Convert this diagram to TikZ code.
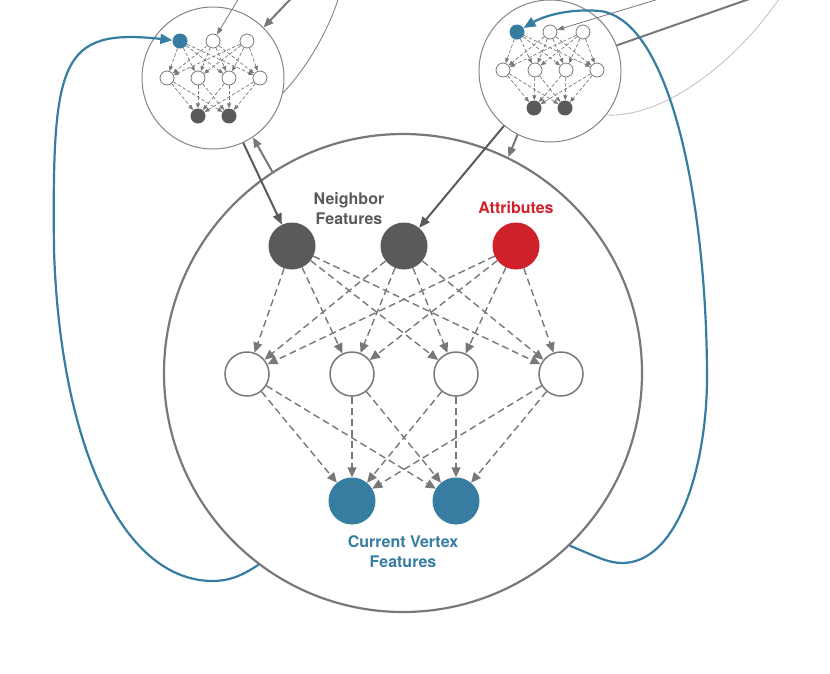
\documentclass[tikz,border=0pt]{standalone}
\usepackage{fontspec}
\setmainfont{TeX Gyre Heros}
\usepackage{tikz}
\usetikzlibrary{positioning, arrows.meta, calc}
\usepackage{xcolor}
\definecolor{NodeGray}{HTML}{5A5A5A}
\definecolor{LineGray}{HTML}{787878}
\definecolor{RimGray}{HTML}{858585}
\definecolor{FaintGray}{HTML}{BEBEBE}
\definecolor{AttrRed}{HTML}{CE2129}
\definecolor{VertBlue}{HTML}{367DA1}

\begin{document}
\begin{tikzpicture}[x=1pt, y=-1pt,
    featnode/.style={circle, fill=NodeGray, minimum size=47pt, inner sep=0pt},
    attrnode/.style={circle, fill=AttrRed, minimum size=47pt, inner sep=0pt},
    hidnode/.style={circle, draw=LineGray, line width=1.5pt, fill=white, minimum size=44pt, inner sep=0pt},
    vertnode/.style={circle, fill=VertBlue, minimum size=47pt, inner sep=0pt},
    sblue/.style={circle, fill=VertBlue, minimum size=15pt, inner sep=0pt},
    swhite/.style={circle, draw=LineGray, line width=0.8pt, fill=white, minimum size=14pt, inner sep=0pt},
    sdark/.style={circle, fill=NodeGray, minimum size=15pt, inner sep=0pt},
    link/.style={draw=LineGray, line width=1.4pt, dash pattern=on 7pt off 4pt, -{Triangle[length=10pt, width=9pt]}},
    slink/.style={draw=LineGray, line width=0.7pt, dash pattern=on 3.5pt off 2pt, -{Triangle[length=5pt, width=4pt]}},
    feed/.style={draw=NodeGray, line width=2pt, -{Triangle[length=11pt, width=9pt]}},
    back/.style={draw=LineGray, line width=2pt, -{Triangle[length=10pt, width=8pt]}},
    recur/.style={draw=VertBlue, line width=2.2pt, -{Triangle[length=12pt, width=10pt]}},
    lbl/.style={font=\fontsize{16}{20}\selectfont\bfseries, align=center, inner sep=0pt}
]
\clip (0,0) rectangle (830,673);

% Cell and the two neighbor copies
\node[circle, draw=LineGray, line width=2.2pt, minimum size=478pt, inner sep=0pt] (cell) at (403,373) {};
\node[circle, draw=RimGray, line width=1pt, minimum size=142pt, inner sep=0pt] (netL) at (213,78) {};
\node[circle, draw=RimGray, line width=1pt, minimum size=142pt, inner sep=0pt] (netR) at (550,71) {};

% Input layer
\node[featnode] (n1) at (292,246) {};
\node[featnode] (n2) at (404,246) {};
\node[attrnode] (attr) at (516,246) {};

% Hidden layer
\node[hidnode] (h1) at (247,374) {};
\node[hidnode] (h2) at (352,374) {};
\node[hidnode] (h3) at (456,374) {};
\node[hidnode] (h4) at (561,374) {};

% Output layer
\node[vertnode] (o1) at (352,501) {};
\node[vertnode] (o2) at (456,501) {};

\foreach \s in {n1,n2,attr}
    \foreach \t in {h1,h2,h3,h4}
        \draw[link] (\s) -- (\t);
\foreach \s in {h1,h2,h3,h4}
    \foreach \t in {o1,o2}
        \draw[link] (\s) -- (\t);

% Labels
\node[lbl, text=NodeGray] (nbrlbl) at (349,209) {Neighbor\\Features};
\node[lbl, text=AttrRed] (attrlbl) at (516,208) {Attributes};
\node[lbl, text=VertBlue] (vertlbl) at (403,552) {Current Vertex\\Features};

% Left copy
\node[sblue] (lA1) at (180,41) {};
\node[swhite] (lA2) at (213,41) {};
\node[swhite] (lA3) at (247,41) {};
\node[swhite] (lB1) at (167,78) {};
\node[swhite] (lB2) at (198,78) {};
\node[swhite] (lB3) at (229,78) {};
\node[swhite] (lB4) at (260,78) {};
\node[sdark] (lC1) at (198,116) {};
\node[sdark] (lC2) at (229,116) {};

% Right copy
\node[sblue] (rA1) at (517,32) {};
\node[swhite] (rA2) at (550,32) {};
\node[swhite] (rA3) at (583,32) {};
\node[swhite] (rB1) at (503,70) {};
\node[swhite] (rB2) at (535,70) {};
\node[swhite] (rB3) at (566,70) {};
\node[swhite] (rB4) at (597,70) {};
\node[sdark] (rC1) at (534,108) {};
\node[sdark] (rC2) at (565,108) {};

\foreach \p in {l,r} {
    \foreach \s in {A1,A2,A3}
        \foreach \t in {B1,B2,B3,B4}
            \draw[slink] (\p\s) -- (\p\t);
    \foreach \s in {B1,B2,B3,B4}
        \foreach \t in {C1,C2}
            \draw[slink] (\p\s) -- (\p\t);
}

% Links between cell and copies
\draw[feed] (netL.-65) -- (n1);
\draw[feed] (netR.-130) -- (n2);
\draw[back] (cell.123) -- (netL.-56);
\draw[back] (netR.-117) -- (cell.64);

% Links leaving the picture
\coordinate (offA) at (245,-12);
\coordinate (offB) at (301,-12);
\coordinate (offC) at (341,-10);
\coordinate (offD) at (672,-5);
\coordinate (offE) at (775,-10);
\coordinate (offF) at (785,-10);
\draw[draw=LineGray, line width=0.8pt, -{Triangle[length=7pt, width=5pt]}] (offA) -- (lA2);
\draw[draw=LineGray, line width=2pt, -{Triangle[length=10pt, width=8pt]}] (offB) -- (netL.45);
\draw[draw=LineGray, line width=0.8pt] (netL.-12) .. controls (305,70) and (330,30) .. (offC);
\draw[draw=LineGray, line width=0.8pt, -{Triangle[length=7pt, width=5pt]}] (offD) -- (rA2);
\draw[draw=LineGray, line width=2pt] (netR.21) -- (offE);
\draw[draw=FaintGray, line width=0.8pt] (netR.-38) .. controls (665,118) and (740,60) .. (offF);

% Recurrent links back to the copies
\draw[recur] (cell.-127) .. controls (240,577) and (228,581) .. (212,581)
    .. controls (120,580) and (60,440) .. (54,250)
    .. controls (52,60) and (60,28) .. (lA1);
\draw[recur] (cell.-46) .. controls (595,556) and (608,563) .. (622,563)
    .. controls (680,563) and (708,460) .. (707,372)
    .. controls (706,200) and (670,20) .. (600,11)
    .. controls (565,8) and (540,18) .. (rA1);

\end{tikzpicture}
\end{document}
